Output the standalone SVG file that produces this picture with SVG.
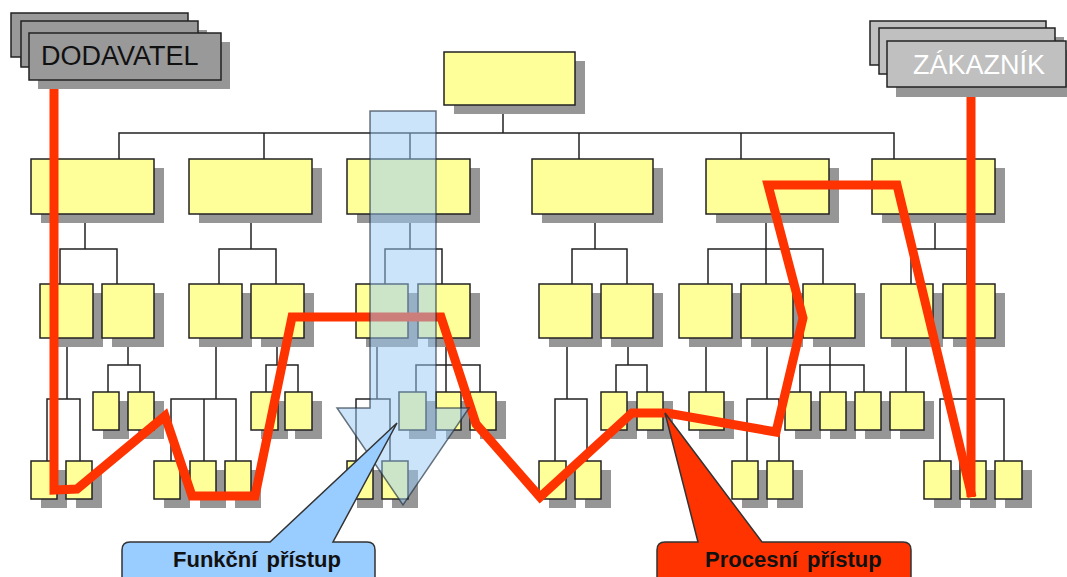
<svg xmlns="http://www.w3.org/2000/svg" width="1067" height="577" viewBox="0 0 1067 577">
  <style>
    .box { fill: #ffff99; stroke: #222; stroke-width: 1.5; }
    .sh { fill: #969696; }
    .hdr-d { fill: #999999; stroke: #222; stroke-width: 1.5; }
    .hdr-z { fill: #c0c0c0; stroke: #222; stroke-width: 1.5; }
    .conn { fill: none; stroke: #222; stroke-width: 1.5; }
    .red { fill: none; stroke: #ff3300; stroke-width: 9; stroke-linejoin: miter; stroke-miterlimit: 10; }
    .hdr-text { font-family: "Liberation Sans", Arial, sans-serif; font-size: 27px; }
    .call-text { font-family: "Liberation Sans", Arial, sans-serif; font-size: 22px; font-weight: bold; fill: #111; word-spacing: 3px; }
  </style>

  <rect width="1067" height="577" fill="#ffffff"/>

  <!-- supplier header (stacked cards) -->
  <g id="dodavatel">
    <rect class="sh" x="20" y="22" width="177" height="44"/>
    <rect class="hdr-d" x="11" y="13" width="177" height="44"/>
    <rect class="sh" x="30" y="30" width="177" height="46"/>
    <rect class="hdr-d" x="21" y="21" width="177" height="46"/>
    <rect class="sh" x="38" y="42" width="192" height="47"/>
    <rect class="hdr-d" x="29" y="33" width="192" height="47"/>
    <text class="hdr-text" x="41" y="65" fill="#111">DODAVATEL</text>
  </g>

  <!-- customer header (stacked cards) -->
  <g id="zakaznik">
    <rect class="sh" x="879" y="30" width="176" height="44"/>
    <rect class="hdr-z" x="870" y="21" width="176" height="44"/>
    <rect class="sh" x="888" y="37" width="176" height="46"/>
    <rect class="hdr-z" x="879" y="28" width="176" height="46"/>
    <rect class="sh" x="896" y="50" width="180" height="47"/>
    <rect class="hdr-z" x="887" y="41" width="179" height="46"/>
    <text class="hdr-text" x="913" y="74" fill="#ffffff">ZÁKAZNÍK</text>
  </g>

  <!-- org chart connectors -->
  <g id="connectors">
    <path class="conn" d="
      M503,105 V133
      M119,159 V133 H894 V159
      M264,133 V159 M410,133 V159 M579,133 V159 M741,133 V159
      M85,214 V249 M60,284 V249 H117 V284
      M251,214 V249 M219,284 V249 H276 V284
      M410,214 V249 M385,284 V249 H442 V284
      M595,214 V249 M572,284 V249 H627 V284
      M708,284 V249 H823 V284 M766,214 V284
      M935,214 V249 M911,284 V249 H967 V284
      M67,338 V399 M47,461 V399 H80 V461
      M128,338 V365 M108,392 V365 H140 V392
      M216,338 V399 M171,461 V399 H236 V461 M204,399 V461
      M277,338 V365 M266,392 V365 H298 V392
      M377,338 V399 M356,461 V399 H390 V461
      M446,338 V392 M416,392 V365 H480 V392
      M567,338 V399 M555,461 V399 H587 V461
      M628,338 V365 M616,392 V365 H647 V392
      M706,338 V392
      M767,338 V399 M747,461 V399 H779 V461
      M830,338 V392 M800,392 V365 H864 V392
      M906,338 V392
      M971,338 V461 M940,461 V399 H1004 V461"/>
  </g>

  <!-- root -->
  <g id="root"><rect class="sh" x="454" y="61" width="131" height="53"/><rect class="box" x="444" y="52" width="131" height="53"/></g>

  <!-- level 1 -->
  <g id="l1-a"><rect class="sh" x="41" y="168" width="123" height="55"/><rect class="box" x="31" y="159" width="123" height="55"/></g>
  <g id="l1-b"><rect class="sh" x="199" y="168" width="123" height="55"/><rect class="box" x="189" y="159" width="123" height="55"/></g>
  <g id="l1-c"><rect class="sh" x="357" y="168" width="123" height="55"/><rect class="box" x="347" y="159" width="123" height="55"/></g>
  <g id="l1-d"><rect class="sh" x="542" y="168" width="121" height="55"/><rect class="box" x="532" y="159" width="121" height="55"/></g>
  <g id="l1-e"><rect class="sh" x="716" y="168" width="123" height="55"/><rect class="box" x="706" y="159" width="123" height="55"/></g>
  <g id="l1-f"><rect class="sh" x="882" y="168" width="123" height="55"/><rect class="box" x="872" y="159" width="123" height="55"/></g>

  <!-- level 2 -->
  <g id="l2-a"><rect class="sh" x="50" y="293" width="53" height="54"/><rect class="box" x="40" y="284" width="53" height="54"/></g>
  <g id="l2-b"><rect class="sh" x="112" y="293" width="52" height="54"/><rect class="box" x="102" y="284" width="52" height="54"/></g>
  <g id="l2-c"><rect class="sh" x="199" y="293" width="53" height="54"/><rect class="box" x="189" y="284" width="53" height="54"/></g>
  <g id="l2-d"><rect class="sh" x="261" y="293" width="53" height="54"/><rect class="box" x="251" y="284" width="53" height="54"/></g>
  <g id="l2-e"><rect class="sh" x="366" y="293" width="52" height="54"/><rect class="box" x="356" y="284" width="52" height="54"/></g>
  <g id="l2-f"><rect class="sh" x="428" y="293" width="52" height="54"/><rect class="box" x="418" y="284" width="52" height="54"/></g>
  <g id="l2-g"><rect class="sh" x="549" y="293" width="53" height="54"/><rect class="box" x="539" y="284" width="53" height="54"/></g>
  <g id="l2-h"><rect class="sh" x="611" y="293" width="52" height="54"/><rect class="box" x="601" y="284" width="52" height="54"/></g>
  <g id="l2-i"><rect class="sh" x="689" y="293" width="53" height="54"/><rect class="box" x="679" y="284" width="53" height="54"/></g>
  <g id="l2-j"><rect class="sh" x="751" y="293" width="52" height="54"/><rect class="box" x="741" y="284" width="52" height="54"/></g>
  <g id="l2-k"><rect class="sh" x="813" y="293" width="52" height="54"/><rect class="box" x="803" y="284" width="52" height="54"/></g>
  <g id="l2-l"><rect class="sh" x="891" y="293" width="52" height="54"/><rect class="box" x="881" y="284" width="52" height="54"/></g>
  <g id="l2-m"><rect class="sh" x="953" y="293" width="52" height="54"/><rect class="box" x="943" y="284" width="52" height="54"/></g>

  <!-- level 3 -->
  <g id="l3-b1"><rect class="sh" x="103" y="401" width="26" height="38"/><rect class="box" x="93" y="392" width="26" height="38"/></g>
  <g id="l3-b2"><rect class="sh" x="138" y="401" width="26" height="38"/><rect class="box" x="128" y="392" width="26" height="38"/></g>
  <g id="l3-d1"><rect class="sh" x="261" y="401" width="27" height="38"/><rect class="box" x="251" y="392" width="27" height="38"/></g>
  <g id="l3-d2"><rect class="sh" x="295" y="401" width="27" height="38"/><rect class="box" x="285" y="392" width="27" height="38"/></g>
  <g id="l3-f1"><rect class="sh" x="409" y="401" width="27" height="38"/><rect class="box" x="399" y="392" width="27" height="38"/></g>
  <g id="l3-f2"><rect class="sh" x="446" y="401" width="25" height="38"/><rect class="box" x="436" y="392" width="25" height="38"/></g>
  <g id="l3-f3"><rect class="sh" x="480" y="401" width="26" height="38"/><rect class="box" x="470" y="392" width="26" height="38"/></g>
  <g id="l3-h1"><rect class="sh" x="611" y="401" width="26" height="38"/><rect class="box" x="601" y="392" width="26" height="38"/></g>
  <g id="l3-h2"><rect class="sh" x="647" y="401" width="26" height="38"/><rect class="box" x="637" y="392" width="26" height="38"/></g>
  <g id="l3-i1"><rect class="sh" x="699" y="401" width="35" height="38"/><rect class="box" x="689" y="392" width="35" height="38"/></g>
  <g id="l3-k1"><rect class="sh" x="795" y="401" width="26" height="38"/><rect class="box" x="785" y="392" width="26" height="38"/></g>
  <g id="l3-k2"><rect class="sh" x="830" y="401" width="26" height="38"/><rect class="box" x="820" y="392" width="26" height="38"/></g>
  <g id="l3-k3"><rect class="sh" x="865" y="401" width="26" height="38"/><rect class="box" x="855" y="392" width="26" height="38"/></g>
  <g id="l3-l1"><rect class="sh" x="900" y="401" width="34" height="38"/><rect class="box" x="890" y="392" width="34" height="38"/></g>

  <!-- level 4 -->
  <g id="l4-a1"><rect class="sh" x="41" y="470" width="26" height="38"/><rect class="box" x="31" y="461" width="26" height="38"/></g>
  <g id="l4-a2"><rect class="sh" x="76" y="470" width="26" height="38"/><rect class="box" x="66" y="461" width="26" height="38"/></g>
  <g id="l4-c1"><rect class="sh" x="164" y="470" width="26" height="38"/><rect class="box" x="154" y="461" width="26" height="38"/></g>
  <g id="l4-c2"><rect class="sh" x="200" y="470" width="26" height="38"/><rect class="box" x="190" y="461" width="26" height="38"/></g>
  <g id="l4-c3"><rect class="sh" x="235" y="470" width="26" height="38"/><rect class="box" x="225" y="461" width="26" height="38"/></g>
  <g id="l4-e1"><rect class="sh" x="357" y="470" width="26" height="38"/><rect class="box" x="347" y="461" width="26" height="38"/></g>
  <g id="l4-e2"><rect class="sh" x="392" y="470" width="26" height="38"/><rect class="box" x="382" y="461" width="26" height="38"/></g>
  <g id="l4-g1"><rect class="sh" x="549" y="470" width="27" height="38"/><rect class="box" x="539" y="461" width="27" height="38"/></g>
  <g id="l4-g2"><rect class="sh" x="585" y="470" width="26" height="38"/><rect class="box" x="575" y="461" width="26" height="38"/></g>
  <g id="l4-j1"><rect class="sh" x="742" y="470" width="26" height="38"/><rect class="box" x="732" y="461" width="26" height="38"/></g>
  <g id="l4-j2"><rect class="sh" x="777" y="470" width="26" height="38"/><rect class="box" x="767" y="461" width="26" height="38"/></g>
  <g id="l4-m1"><rect class="sh" x="934" y="470" width="27" height="38"/><rect class="box" x="924" y="461" width="27" height="38"/></g>
  <g id="l4-m2"><rect class="sh" x="970" y="470" width="26" height="38"/><rect class="box" x="960" y="461" width="26" height="38"/></g>
  <g id="l4-m3"><rect class="sh" x="1005" y="470" width="27" height="38"/><rect class="box" x="995" y="461" width="27" height="38"/></g>

  <!-- process path from supplier to customer -->
  <g id="process-path">
    <polyline class="red"
      points="54,89 54,490 77,489 165,416 192,496 255,496 292,317 441,317 476,424 540,497 632,413 667,413 776,432 803,318 768,185 897,185 972,497"/>
    <line class="red" x1="971" y1="97" x2="971" y2="497"/>
  </g>

  <!-- functional (vertical) arrow -->
  <g id="functional-arrow">
    <polygon points="370,111 436,111 436,408 469,408 403,505 337,408 370,408"
      fill="#99c9f5" fill-opacity="0.5" stroke="#1e2c3a" stroke-opacity="0.65" stroke-width="1.5"/>
  </g>

  <!-- callouts -->
  <g id="callout-funkcni">
    <path d="M130,542 H270 L397,423 L333,542 H367 Q375,542 375,550 V590 H122 V550 Q122,542 130,542 Z"
      fill="#99ccff" stroke="#333" stroke-width="1.5" stroke-linejoin="miter"/>
    <text class="call-text" x="173" y="567">Funkční přístup</text>
  </g>
  <g id="callout-procesni">
    <path d="M665,542 H698 L665,413 L762,542 H903 Q911,542 911,550 V590 H657 V550 Q657,542 665,542 Z"
      fill="#ff3300" stroke="#333" stroke-width="1.5" stroke-linejoin="miter"/>
    <text class="call-text" x="705" y="567">Procesní přístup</text>
  </g>
</svg>
